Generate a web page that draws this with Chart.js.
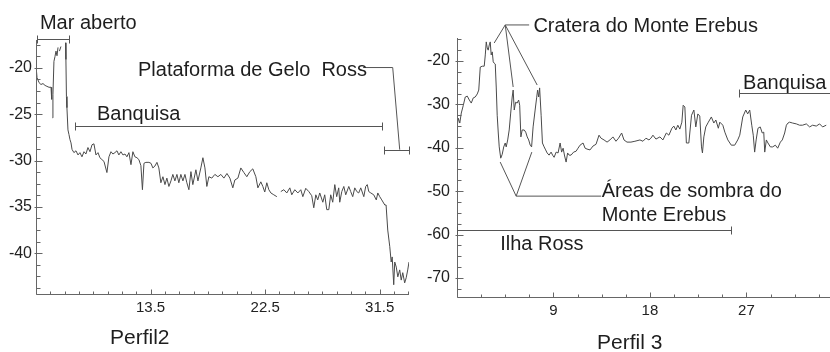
<!DOCTYPE html>
<html>
<head>
<meta charset="utf-8">
<script src="https://cdn.jsdelivr.net/npm/chart.js@4.4.1/dist/chart.umd.min.js"></script>
<style>
  html, body { margin: 0; padding: 0; background: #fff; }
  #wrap { position: relative; width: 830px; height: 352px; }
  canvas { position: absolute; top: 0; }
</style>
</head>
<body>
<div id="wrap">
  <canvas id="perfil2" width="415" height="352" style="left:0"></canvas>
  <canvas id="perfil3" width="415" height="352" style="left:415px"></canvas>
</div>
<script>
// Perfil 2 - distancia (x) e valor (y); null = falha na linha
const perfil2X = [
  4.54, 4.58, 4.74, 4.89, 5.05, 5.21, 5.36, 5.52, 5.68, 5.73,
  5.76, 5.80, 5.83, 5.91, 5.99, 6.07, 6.15, 6.23, 6.28, 6.34,
  6.46, 6.60, 6.82, 6.85, 6.89, 6.93, 7.01, 7.09, 7.17, 7.25,
  7.33, 7.48, 7.64, 7.80, 7.95, 8.11, 8.27, 8.42, 8.58, 8.74,
  8.90, 9.05, 9.21, 9.37, 9.52, 9.68, 9.84, 10.07, 10.23, 10.39,
  10.54, 10.70, 10.86, 11.01, 11.17, 11.33, 11.49, 11.64, 11.80, 11.96,
  12.11, 12.27, 12.43, 12.58, 12.74, 12.86, 12.98, 13.13, 13.37, 13.53,
  13.68, 13.84, 14.00, 14.15, 14.31, 14.47, 14.63, 14.78, 14.94, 15.10,
  15.25, 15.41, 15.57, 15.72, 15.88, 16.04, 16.20, 16.35, 16.51, 16.67,
  16.82, 17.06, 17.22, 17.45, 17.61, 17.77, 17.92, 18.08, 18.31, 18.55,
  18.79, 19.02, 19.26, 19.50, 19.73, 19.96, 20.12, 20.36, 20.59, 20.83,
  21.06, 21.30, 21.53, 21.77, 21.93, 22.16, 22.32, 22.47, 22.63, 22.79,
  22.95, 23.18, 23.42, 23.56, 23.73, 23.97, 24.20, 24.44, 24.59, 24.83,
  25.07, 25.30, 25.46, 25.69, 25.93, 26.16, 26.32, 26.48, 26.63, 26.79,
  27.03, 27.18, 27.34, 27.50, 27.65, 27.81, 27.97, 28.12, 28.28, 28.36,
  28.52, 28.68, 28.83, 29.07, 29.22, 29.38, 29.54, 29.70, 29.85, 30.01,
  30.25, 30.40, 30.52, 30.64, 30.80, 31.03, 31.23, 31.35, 31.50, 31.66,
  31.90, 32.00, 32.13, 32.29, 32.40, 32.48, 32.60, 32.68, 32.80, 32.92,
  33.07, 33.19, 33.31, 33.46, 33.58, 33.70, 33.80
];
const perfil2Y = [
  -20.4, -21.05, -21.6, -21.8, -21.7, -21.9, -22.0, -22.1, -22.1, -23.4,
  null, -25.4, -22.9, -19.3, -18.8, -18.2, -18.7, -17.8, null, -18.2,
  -17.7, null, -17.3, -19.1, -23.1, -24.3, -26.7, -27.2, -27.75, -28.1,
  -28.8, -29.15, -28.95, -29.4, -29.15, -29.6, -29.05, -29.3, -28.6, -29.05,
  -28.3, -28.2, -29.4, -29.15, -29.7, -29.9, -30.1, -31.3, -29.6, -29.05,
  -29.3, -29.15, -28.95, -29.4, -29.05, -29.4, -29.3, -29.6, -29.15, -30.45,
  -29.05, -29.6, -29.7, -29.9, -30.55, -33.15, -30.3, -30.2, -30.2, -30.3,
  -30.8, -30.6, -30.2, -30.8, -32.4, -31.75, -32.6, -31.9, -32.8, -32.2,
  -31.5, -32.2, -31.5, -32.4, -31.5, -32.2, -31.5, -32.4, -33.15, -31.2,
  -32.6, -31.0, -32.2, -30.8, -29.7, -30.8, -32.8, -31.75, -31.9, -31.5,
  -31.75, -31.5, -31.9, -31.4, -31.9, -32.95, -32.1, -31.9, -30.8, -31.3,
  -31.75, -31.2, -30.9, -31.75, -32.95, -32.3, -32.8, -33.4, -32.4, -33.15,
  -33.5, -33.7, -33.9, null, -33.35, -33.15, -33.5, -32.95, -33.7, -33.15,
  -33.5, -33.15, -33.9, -33.0, -33.35, -33.8, -35.1, -33.7, -34.25, -33.5,
  -34.5, -33.7, -35.3, -35.3, -33.7, -34.5, -32.6, -33.9, -32.95, -34.5,
  -33.35, -32.8, -33.7, -32.8, -33.35, -33.9, -32.95, -33.35, -33.5, -32.95,
  -33.9, -32.8, -32.6, -33.35, -33.5, -33.7, -34.25, -33.5, -33.9, -34.25,
  -34.8, -34.8, -37.5, -39.3, -40.95, -40.4, -43.4, -40.95, -41.5, -42.55,
  -41.8, -42.9, -42.1, -43.2, -42.65, -41.8, -40.95
];

// Perfil 3
const perfil3X = [
  0.03, 0.12, 0.26, 0.40, 0.59, 0.77, 0.96, 1.15, 1.33, 1.52,
  1.70, 1.89, 2.03, 2.17, 2.36, 2.54, 2.64, 2.73, 2.82, 2.91,
  3.01, 3.10, 3.19, 3.29, 3.38, 3.47, 3.57, 3.66, 3.75, 3.85,
  3.94, 4.08, 4.22, 4.36, 4.50, 4.59, 4.73, 4.87, 5.01, 5.15,
  5.24, 5.34, 5.47, 5.61, 5.75, 5.85, 5.96, 6.08, 6.27, 6.41,
  6.55, 6.69, 6.83, 6.96, 7.10, 7.29, 7.43, 7.52, 7.62, 7.71,
  7.85, 7.97, 8.13, 8.27, 8.41, 8.59, 8.78, 8.92, 9.06, 9.25,
  9.43, 9.62, 9.76, 9.90, 10.04, 10.18, 10.32, 10.46, 10.64, 10.88,
  11.11, 11.29, 11.48, 11.76, 11.95, 12.13, 12.41, 12.69, 12.97, 13.25,
  13.44, 13.72, 14.00, 14.27, 14.55, 14.83, 15.07, 15.36, 15.58, 15.86,
  16.23, 16.60, 17.07, 17.35, 17.63, 17.91, 18.09, 18.28, 18.56, 18.93,
  19.21, 19.53, 19.77, 20.05, 20.23, 20.42, 20.60, 20.79, 20.98, 21.10,
  21.26, 21.40, 21.63, 21.88, 22.10, 22.28, 22.47, 22.65, 22.81, 22.90,
  23.03, 23.21, 23.45, 23.73, 23.96, 24.15, 24.38, 24.52, 24.80, 24.99,
  25.27, 25.59, 25.91, 26.19, 26.38, 26.66, 26.94, 27.12, 27.31, 27.50,
  27.64, 27.77, 27.91, 28.08, 28.29, 28.48, 28.62, 28.71, 28.86, 29.01,
  29.24, 29.45, 29.70, 29.92, 30.17, 30.35, 30.57, 30.73, 30.88, 31.03,
  31.31, 31.66, 31.96, 32.24, 32.59, 32.90, 33.18, 33.52, 33.83, 34.11,
  34.45
];
const perfil3Y = [
  -34.8, -33.2, -34.3, -32.0, -30.2, -28.3, -28.1, -29.0, -29.7, -28.5,
  -28.3, -27.6, -26.7, -21.4, -21.2, -21.2, -18.6, -15.6, -17.0, -17.5,
  -16.3, -15.6, -18.6, -17.9, -20.2, -20.5, -20.7, -26.0, -32.5, -36.6,
  -39.8, -42.4, -41.5, -39.8, -38.9, -39.8, -38.2, -35.9, -32.0, -28.3,
  -26.7, -31.3, -29.5, -29.7, -29.0, -30.2, -37.5, -35.9, -35.9, -36.4,
  -37.5, -38.2, -39.4, -39.8, -35.2, -31.3, -28.5, -26.7, -28.3, -26.2,
  -32.5, -38.9, -39.8, -40.5, -41.2, -41.7, -41.0, -41.7, -42.2, -41.0,
  -41.2, -38.9, -41.0, -40.1, -41.9, -43.3, -41.2, -41.7, -41.7, -41.0,
  -40.8, -40.1, -39.4, -38.9, -40.1, -40.3, -40.5, -39.6, -39.2, -37.1,
  -37.8, -38.2, -38.7, -38.2, -37.5, -38.5, -37.8, -36.6, -38.2, -38.7,
  -38.7, -38.5, -38.2, -38.5, -37.8, -38.2, -37.8, -37.1, -38.0, -37.5,
  -38.2, -36.6, -37.1, -35.5, -35.0, -35.9, -34.8, -35.7, -34.1, -30.2,
  -30.6, -38.9, -38.9, -32.5, -31.3, -35.2, -32.2, -32.7, -39.8, -41.2,
  -37.5, -35.2, -34.1, -32.9, -34.3, -33.6, -35.5, -34.1, -34.8, -36.4,
  -38.2, -39.4, -39.4, -38.2, -37.1, -32.9, -31.3, -32.2, -31.3, -34.8,
  -37.1, -41.0, -38.2, -35.5, -35.2, -36.6, -36.4, -41.0, -38.2, -38.9,
  -39.8, -39.8, -39.4, -40.1, -38.7, -38.2, -36.6, -34.8, -34.3, -34.1,
  -34.3, -34.5, -34.8, -34.8, -34.5, -35.2, -34.8, -35.0, -34.5, -35.2,
  -34.8
];

// rotulos dos eixos
const perfil2XLabels = [13.5, 22.5, 31.5];
const perfil2YLabels = [-20, -25, -30, -35, -40];
const perfil3XLabels = [9, 18, 27];
const perfil3YLabels = [-20, -30, -40, -50, -60, -70];

const FONT = '"Liberation Sans", Arial, sans-serif';
Chart.defaults.font.family = FONT;
Chart.defaults.color = '#222';

const hasLabel = (list, v) => list.some(l => Math.abs(l - v) < 1e-6);

// eixos com marcas para dentro (como no original)
const axisMarks = {
  id: 'axisMarks',
  afterDraw(chart) {
    const { ctx, chartArea: a, scales: { x, y } } = chart;
    ctx.save();
    ctx.strokeStyle = '#666';
    ctx.lineWidth = 1;
    ctx.beginPath();
    const left = Math.round(a.left) + 0.5, bottom = Math.round(a.bottom) + 0.5;
    ctx.moveTo(left, a.top);
    ctx.lineTo(left, bottom);
    ctx.lineTo(a.right, bottom);
    x.ticks.forEach(t => {
      const px = Math.round(x.getPixelForValue(t.value)) + 0.5;
      ctx.moveTo(px, bottom);
      ctx.lineTo(px, bottom - (t.label ? 5 : 3));
    });
    y.ticks.forEach(t => {
      const py = Math.round(y.getPixelForValue(t.value)) + 0.5;
      ctx.moveTo(left - (t.label ? 2 : 0), py);
      ctx.lineTo(left + (t.label ? 6 : 4), py);
    });
    ctx.stroke();
    ctx.restore();
  }
};

// anotacoes (colchetes, linhas de chamada, textos) em coordenadas dos dados
const notes = {
  id: 'notes',
  afterDraw(chart, args, opts) {
    const { ctx, scales: { x, y } } = chart;
    const X = v => x.getPixelForValue(v), Y = v => y.getPixelForValue(v);
    ctx.save();
    ctx.strokeStyle = '#555';
    ctx.lineWidth = 1;
    ctx.beginPath();
    (opts.brackets || []).forEach(b => {
      const yy = Math.round(Y(b.y)) + 0.5, x1 = Math.round(X(b.x1)) + 0.5, x2 = Math.round(X(b.x2)) + 0.5;
      ctx.moveTo(x1, yy); ctx.lineTo(x2, yy);
      if (b.left !== false) { ctx.moveTo(x1, yy - 4); ctx.lineTo(x1, yy + 4); }
      if (b.right !== false) { ctx.moveTo(x2, yy - 4); ctx.lineTo(x2, yy + 4); }
    });
    (opts.leaders || []).forEach(pts => {
      pts.forEach((p, i) => i ? ctx.lineTo(X(p[0]), Y(p[1])) : ctx.moveTo(X(p[0]), Y(p[1])));
    });
    ctx.stroke();
    ctx.fillStyle = '#1e1e1e';
    ctx.textAlign = 'left';
    ctx.textBaseline = 'alphabetic';
    (opts.labels || []).forEach(l => {
      ctx.font = (l.size || 20) + 'px ' + FONT;
      ctx.fillText(l.text, X(l.x), Y(l.y));
    });
    ctx.restore();
  }
};

function makeChart(id, xs, ys, s) {
  const points = xs.map((v, i) => ({ x: v, y: ys[i] }));
  return new Chart(document.getElementById(id), {
    type: 'line',
    data: {
      datasets: [{
        data: points,
        borderColor: '#4a4a4a',
        borderWidth: 1,
        pointRadius: 0,
        tension: 0,
        spanGaps: false
      }]
    },
    options: {
      responsive: false,
      animation: false,
      devicePixelRatio: 1,
      layout: { padding: { left: 0, right: s.padRight, top: s.padTop, bottom: 0 } },
      plugins: {
        legend: { display: false },
        tooltip: { enabled: false },
        notes: s.notes
      },
      scales: {
        x: {
          type: 'linear',
          min: s.xMin, max: s.xMax,
          grid: { display: false, drawTicks: false },
          border: { display: false },
          afterFit: sc => { sc.height = s.xAxisHeight; },
          ticks: {
            stepSize: s.xStep,
            includeBounds: false,
            autoSkip: false,
            maxRotation: 0,
            padding: 5,
            font: { size: 15 },
            color: '#222',
            callback: v => hasLabel(s.xLabels, v) ? String(v) : ''
          }
        },
        y: {
          min: s.yMin, max: s.yMax,
          grid: { display: false, drawTicks: false },
          border: { display: false },
          afterFit: sc => { sc.width = s.yAxisWidth; },
          ticks: {
            stepSize: s.yStep,
            includeBounds: false,
            autoSkip: false,
            padding: s.yPad,
            font: { size: 16 },
            color: '#222',
            callback: v => hasLabel(s.yLabels, v) ? String(v) : ''
          }
        }
      }
    },
    plugins: [axisMarks, notes]
  });
}

makeChart('perfil2', perfil2X, perfil2Y, {
  xMin: 4.5, xMax: 33.8, xStep: 1.125, xLabels: perfil2XLabels,
  yMin: -44.4, yMax: -17, yStep: 1.25, yLabels: perfil2YLabels,
  padRight: 6, padTop: 40, xAxisHeight: 58, yAxisWidth: 36, yPad: 4,
  notes: {
    brackets: [
      { x1: 4.58, x2: 7.09, y: -16.94 },
      { x1: 7.56, x2: 31.66, y: -26.24 },
      { x1: 31.82, x2: 33.78, y: -28.83 }
    ],
    leaders: [
      [[30.19, -19.97], [32.52, -19.97], [33.07, -28.83]]
    ],
    labels: [
      { text: 'Mar aberto', x: 4.81, y: -15.86 },
      { text: 'Plataforma de Gelo  Ross', x: 12.51, y: -20.83 },
      { text: 'Banquisa', x: 9.29, y: -25.66 },
      { text: 'Perfil2', x: 10.31, y: -49.8, size: 21 }
    ]
  }
});

makeChart('perfil3', perfil3X, perfil3Y, {
  xMin: 0, xMax: 34.8, xStep: 2.25, xLabels: perfil3XLabels,
  yMin: -74.4, yMax: -14.7, yStep: 2.5, yLabels: perfil3YLabels,
  padRight: 0, padTop: 38, xAxisHeight: 55, yAxisWidth: 42, yPad: 7,
  notes: {
    brackets: [
      { x1: 0, x2: 25.6, y: -59.0 },
      { x1: 26.29, x2: 34.76, y: -27.38, right: false }
    ],
    leaders: [
      [[6.73, -11.69], [4.50, -11.69], [3.47, -15.85]],
      [[4.50, -11.69], [5.24, -26.0]],
      [[4.50, -11.69], [7.48, -25.54]],
      [[4.03, -43.3], [5.52, -51.15], [6.98, -41.0]],
      [[5.52, -51.15], [13.45, -51.15]]
    ],
    labels: [
      { text: 'Cratera do Monte Erebus', x: 7.13, y: -13.24 },
      { text: 'Banquisa', x: 26.69, y: -26.53 },
      { text: 'Áreas de sombra do', x: 13.5, y: -51.45 },
      { text: 'Monte Erebus', x: 13.5, y: -56.85 },
      { text: 'Ilha Ross', x: 4.03, y: -63.6 },
      { text: 'Perfil 3', x: 13.06, y: -86.45, size: 21 }
    ]
  }
});
</script>
</body>
</html>
